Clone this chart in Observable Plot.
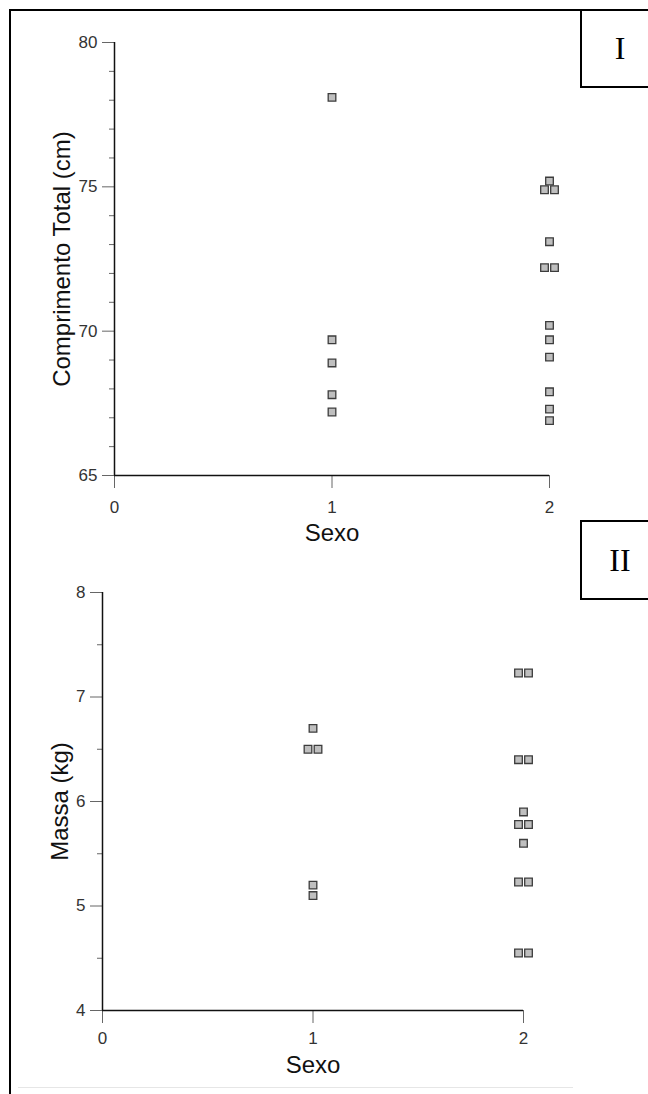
<!DOCTYPE html>
<html>
<head>
<meta charset="utf-8">
<script src="https://cdn.jsdelivr.net/npm/d3@7"></script>
<script src="https://cdn.jsdelivr.net/npm/@observablehq/plot@0.6"></script>
<style>
  html, body { margin: 0; padding: 0; background: #fff; }
  #page { position: relative; width: 648px; height: 1094px; overflow: hidden; font-family: "Liberation Sans", Arial, sans-serif; }
  .plot-slot { position: absolute; left: 0; }
  .plot-slot svg { background: transparent; }
  .frame-left { position: absolute; left: 9px; top: 9px; width: 2px; height: 1085px; background: #000; z-index: 2; }
  .frame-top { position: absolute; left: 9px; top: 9px; width: 639px; height: 2px; background: #000; z-index: 2; }
  .tag { position: absolute; left: 580px; width: 80px; box-sizing: border-box; border: 2px solid #000; background: #fff;
         font-family: "Liberation Serif", "Times New Roman", serif; font-size: 32px; color: #000;
         display: flex; align-items: center; justify-content: center; z-index: 3; }
  .footer-line { position: absolute; left: 18px; top: 1087px; width: 555px; height: 1px; background: #e6e6e6; }
</style>
</head>
<body>
<div id="page">
  <div class="plot-slot" id="comprimento" style="top:0px"></div>
  <div class="plot-slot" id="massa" style="top:560px"></div>
  <div class="frame-left"></div>
  <div class="frame-top"></div>
  <div class="tag" style="top:9px;height:79px;">I</div>
  <div class="tag" style="top:520px;height:80px;">II</div>
  <div class="footer-line"></div>
</div>
<script>
// Sex groups on the x axis
const sexoTicks = [0, 1, 2];

// Total length (cm) per individual, by sex
const comprimentoSexo1 = [78.1, 69.7, 68.9, 67.8, 67.2];
const comprimentoSexo2 = [75.2, 74.9, 74.9, 73.1, 72.2, 72.2, 70.2, 69.7, 69.1, 67.9, 67.3, 66.9];
const comprimentoTicks = [65, 70, 75, 80];
const comprimentoMinorTicks = [66, 67, 68, 69, 71, 72, 73, 74, 76, 77, 78, 79];

// Body mass (kg) per individual, by sex
const massaSexo1 = [6.7, 6.5, 6.5, 5.2, 5.1];
const massaSexo2 = [7.23, 7.23, 6.4, 6.4, 5.9, 5.78, 5.78, 5.6, 5.23, 5.23, 4.55, 4.55];
const massaTicks = [4, 5, 6, 7, 8];
const massaMinorTicks = [4.5, 5.5, 6.5, 7.5];

// Tie points with equal values sit side by side: slot -1 (left), 0 (alone), +1 (right)
function rows(sexo, values) {
  const counts = d3.rollup(values, v => v.length, v => v);
  const seen = new Map();
  return values.map(v => {
    const n = counts.get(v);
    const k = seen.get(v) || 0;
    seen.set(v, k + 1);
    const slot = n === 1 ? 0 : (k === 0 ? -1 : 1);
    return {sexo, valor: v, slot};
  });
}

const font = "'Liberation Sans', Arial, sans-serif";
const integer = d3.format("d");

function squares(data) {
  const style = {x: "sexo", y: "valor", symbol: "square", r: 4.3, fill: "#bfbfbf", stroke: "#3c3c3c", strokeWidth: 1.3};
  return [
    Plot.dot(data, {...style, filter: d => d.slot === 0}),
    Plot.dot(data, {...style, filter: d => d.slot === -1, dx: -5}),
    Plot.dot(data, {...style, filter: d => d.slot === 1, dx: 5})
  ];
}

function panel({data, yDomain, yTicks, yMinor, yLabel, height, margins, labelDx, xPadding, sexoDy}) {
  return Plot.plot({
    width: 648,
    height,
    ...margins,
    style: {fontFamily: font, background: "transparent"},
    x: {domain: [0, 2]},
    y: {domain: yDomain},
    marks: [
      Plot.axisY(yMinor, {tickSize: 5, tickFormat: () => "", label: null, stroke: "#666"}),
      Plot.axisY(yTicks, {tickSize: 12, tickPadding: 5, tickFormat: integer, fontSize: 17, label: null, stroke: "#666", fill: "#333"}),
      Plot.axisX(sexoTicks, {tickSize: 13, tickPadding: xPadding, tickFormat: integer, fontSize: 17, label: null, stroke: "#666", fill: "#333"}),
      Plot.ruleX([0], {stroke: "#111", strokeWidth: 1.5}),
      Plot.ruleY([yDomain[0]], {stroke: "#111", strokeWidth: 1.5}),
      Plot.text([yLabel], {frameAnchor: "left", textAnchor: "middle", dx: labelDx, rotate: -90, fontSize: 24, fill: "#111", text: d => d}),
      Plot.text(["Sexo"], {frameAnchor: "bottom", lineAnchor: "middle", dy: sexoDy, fontSize: 24, fill: "#111", text: d => d}),
      ...squares(data)
    ]
  });
}

document.getElementById("comprimento").append(panel({
  data: [...rows(1, comprimentoSexo1), ...rows(2, comprimentoSexo2)],
  yDomain: [65, 80],
  yTicks: comprimentoTicks,
  yMinor: comprimentoMinorTicks,
  yLabel: "Comprimento Total (cm)",
  height: 560,
  margins: {marginTop: 42, marginBottom: 85, marginLeft: 114, marginRight: 99},
  labelDx: -52,
  xPadding: 12,
  sexoDy: 58
}));

document.getElementById("massa").append(panel({
  data: [...rows(1, massaSexo1), ...rows(2, massaSexo2)],
  yDomain: [4, 8],
  yTicks: massaTicks,
  yMinor: massaMinorTicks,
  yLabel: "Massa (kg)",
  height: 534,
  margins: {marginTop: 32, marginBottom: 84, marginLeft: 102, marginRight: 125},
  labelDx: -42,
  xPadding: 8,
  sexoDy: 55
}));
</script>
</body>
</html>
